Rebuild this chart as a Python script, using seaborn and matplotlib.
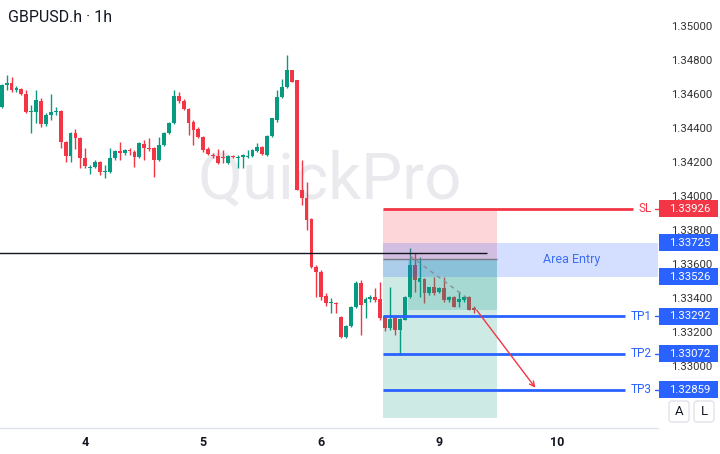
import numpy as np
import pandas as pd
import seaborn as sns
import matplotlib.pyplot as plt
from matplotlib.patches import Rectangle, FancyBboxPatch
from matplotlib import transforms

sns.set_theme(style='white')
plt.rcParams['font.family'] = ['Roboto', 'DejaVu Sans']

# hourly candles (oldest first)
opens = [1.34524, 1.34653, 1.34665, 1.34624, 1.34629, 1.34600, 1.34494, 1.34494, 1.34559, 1.34424,
         1.34476, 1.34494, 1.34500, 1.34318, 1.34235, 1.34371, 1.34341, 1.34224, 1.34165, 1.34171,
         1.34200, 1.34141, 1.34141, 1.34224, 1.34265, 1.34253, 1.34271, 1.34259, 1.34229, 1.34306,
         1.34282, 1.34282, 1.34212, 1.34300, 1.34371, 1.34429, 1.34588, 1.34559, 1.34512, 1.34435,
         1.34394, 1.34347, 1.34276, 1.34241, 1.34235, 1.34229, 1.34194, 1.34235, 1.34224, 1.34229,
         1.34229, 1.34235, 1.34265, 1.34288, 1.34241, 1.34353, 1.34447, 1.34582, 1.34641, 1.34741,
         1.34682, 1.34035, 1.33988, 1.33865, 1.33582, 1.33553, 1.33412, 1.33371, 1.33371, 1.33288,
         1.33171, 1.33235, 1.33347, 1.33488, 1.33371, 1.33394, 1.33406, 1.33394, 1.33294, 1.33224,
         1.33282, 1.33212, 1.33271, 1.33406, 1.33594, 1.33494, 1.33512, 1.33429, 1.33465, 1.33435,
         1.33459, 1.33388, 1.33406, 1.33377, 1.33388, 1.33406, 1.33341]
highs = [1.34659, 1.34712, 1.34700, 1.34647, 1.34635, 1.34624, 1.34535, 1.34624, 1.34576, 1.34488,
         1.34600, 1.34524, 1.34506, 1.34324, 1.34376, 1.34394, 1.34347, 1.34282, 1.34182, 1.34212,
         1.34206, 1.34182, 1.34282, 1.34271, 1.34318, 1.34276, 1.34282, 1.34271, 1.34318, 1.34329,
         1.34341, 1.34288, 1.34347, 1.34376, 1.34435, 1.34624, 1.34612, 1.34571, 1.34518, 1.34447,
         1.34406, 1.34353, 1.34288, 1.34253, 1.34276, 1.34271, 1.34241, 1.34241, 1.34241, 1.34247,
         1.34271, 1.34276, 1.34312, 1.34294, 1.34359, 1.34459, 1.34624, 1.34688, 1.34829, 1.34741,
         1.34682, 1.34212, 1.34082, 1.33871, 1.33594, 1.33565, 1.33429, 1.33400, 1.33377, 1.33294,
         1.33241, 1.33353, 1.33500, 1.33506, 1.33406, 1.33418, 1.33459, 1.33494, 1.33300, 1.33465,
         1.33294, 1.33282, 1.33412, 1.33694, 1.33665, 1.33641, 1.33518, 1.33465, 1.33524, 1.33465,
         1.33524, 1.33412, 1.33412, 1.33435, 1.33412, 1.33412, 1.33353]
lows = [1.34518, 1.34624, 1.34612, 1.34612, 1.34594, 1.34488, 1.34371, 1.34429, 1.34406, 1.34412,
        1.34447, 1.34476, 1.34282, 1.34200, 1.34200, 1.34276, 1.34165, 1.34165, 1.34129, 1.34165,
        1.34124, 1.34106, 1.34135, 1.34212, 1.34212, 1.34241, 1.34241, 1.34171, 1.34224, 1.34212,
        1.34265, 1.34112, 1.34206, 1.34294, 1.34365, 1.34424, 1.34547, 1.34506, 1.34359, 1.34300,
        1.34341, 1.34259, 1.34241, 1.34224, 1.34188, 1.34194, 1.34188, 1.34224, 1.34165, 1.34165,
        1.34224, 1.34229, 1.34259, 1.34241, 1.34235, 1.34347, 1.34435, 1.34576, 1.34635, 1.34671,
        1.34035, 1.33947, 1.33800, 1.33577, 1.33406, 1.33388, 1.33353, 1.33312, 1.33312, 1.33165,
        1.33165, 1.33230, 1.33341, 1.33182, 1.33282, 1.33377, 1.33377, 1.33271, 1.33206, 1.33212,
        1.33182, 1.33065, 1.33271, 1.33400, 1.33435, 1.33406, 1.33371, 1.33418, 1.33418, 1.33429,
        1.33377, 1.33377, 1.33347, 1.33347, 1.33377, 1.33329, 1.33312]
closes = [1.34653, 1.34665, 1.34624, 1.34635, 1.34600, 1.34494, 1.34500, 1.34565, 1.34424, 1.34476,
          1.34494, 1.34500, 1.34318, 1.34235, 1.34371, 1.34341, 1.34224, 1.34176, 1.34171, 1.34200,
          1.34141, 1.34147, 1.34224, 1.34265, 1.34253, 1.34271, 1.34265, 1.34229, 1.34312, 1.34282,
          1.34276, 1.34212, 1.34300, 1.34371, 1.34429, 1.34588, 1.34559, 1.34512, 1.34429, 1.34388,
          1.34347, 1.34271, 1.34247, 1.34235, 1.34194, 1.34224, 1.34235, 1.34229, 1.34229, 1.34241,
          1.34235, 1.34271, 1.34288, 1.34247, 1.34353, 1.34459, 1.34582, 1.34641, 1.34741, 1.34671,
          1.34035, 1.33988, 1.33859, 1.33582, 1.33553, 1.33406, 1.33371, 1.33377, 1.33365, 1.33171,
          1.33235, 1.33347, 1.33488, 1.33359, 1.33394, 1.33406, 1.33388, 1.33282, 1.33224, 1.33277,
          1.33212, 1.33277, 1.33406, 1.33594, 1.33506, 1.33518, 1.33429, 1.33465, 1.33429, 1.33459,
          1.33388, 1.33406, 1.33347, 1.33394, 1.33406, 1.33329, 1.33329]

day_pos = [17, 41, 65, 89, 113]
day_labels = ['4', '5', '6', '9', '10']
price_ticks = [1.330, 1.332, 1.334, 1.336, 1.338, 1.340, 1.342, 1.344, 1.346, 1.348, 1.350]

# trade setup levels
sl = 1.33926
entry_hi = 1.33725
entry_lo = 1.33526
tp_levels = [1.33292, 1.33072, 1.32859]
tp_names = ['TP1', 'TP2', 'TP3']
pos_entry = 1.33629
pos_target = 1.32694
ref_line = 1.33665

RED = '#f23645'
GREEN = '#089981'
BLUE = '#2962ff'
TXT = '#131722'

df = pd.DataFrame({'open': opens, 'high': highs, 'low': lows, 'close': closes})
df['i'] = np.arange(len(df))
df['up'] = df['close'] >= df['open']
df['col'] = np.where(df['up'], GREEN, RED)
df['bot'] = df[['open', 'close']].min(axis=1)
df['h'] = (df['close'] - df['open']).abs().clip(lower=0.00003)

fig = plt.figure(figsize=(7.2, 4.54), dpi=100)
ax = fig.add_axes([0, 26 / 454, 658 / 720, 428 / 454])
ax.set_xlim(-0.35, 133.5)
ax.set_ylim(1.326353, 1.351529)

# watermark
ax.text(330 / 720, 1 - 180 / 454, 'QuickPro', transform=fig.transFigure, fontsize=47,
        color='#eaeaee', ha='center', va='center', zorder=0.5)

# candles
ax.vlines(df['i'], df['low'], df['high'], colors=df['col'], lw=1, zorder=2)
ax.bar(df['i'], df['h'], bottom=df['bot'], width=0.78, color=df['col'], lw=0, zorder=2)

# position tool
x0, x1 = 77.55, 100.7
ax.add_patch(Rectangle((x0, pos_entry), x1 - x0, sl - pos_entry, color=RED, alpha=0.2, lw=0, zorder=3))
ax.add_patch(Rectangle((x0, pos_target), x1 - x0, pos_entry - pos_target, color=GREEN, alpha=0.2, lw=0, zorder=3))
ax.add_patch(Rectangle((82.6, closes[-1]), x1 - 82.6, pos_entry - closes[-1], color=GREEN, alpha=0.2, lw=0, zorder=3))
ax.hlines(pos_entry, x0, x1, color='#787b86', lw=1, zorder=4)

# entry zone
ax.add_patch(Rectangle((x0, entry_lo), 134 - x0, entry_hi - entry_lo, color=BLUE, alpha=0.2, lw=0, zorder=3))
ax.text(115.9, (entry_hi + entry_lo) / 2, 'Area Entry', color='#3d6ff5', fontsize=9,
        ha='center', va='center', zorder=5)

ax.hlines(ref_line, -1, 98.7, color=TXT, lw=1, zorder=4)

# SL / TP lines
ax.hlines(sl, x0, 128.4, color=RED, lw=2, zorder=4)
ax.text(132.2, sl, 'SL', color=RED, fontsize=8.5, ha='right', va='center', zorder=5)
ax.plot([132.9, 133.8], [sl, sl], color=RED, lw=1, clip_on=False, zorder=5)
for lvl, name in zip(tp_levels, tp_names):
    ax.hlines(lvl, x0, 126.8, color=BLUE, lw=2, zorder=4)
    ax.text(132.2, lvl, name, color=BLUE, fontsize=8.5, ha='right', va='center', zorder=5)
    ax.plot([132.9, 133.8], [lvl, lvl], color=BLUE, lw=1, clip_on=False, zorder=5)

# drawings
ax.plot([83.1, 95.2], [1.33647, 1.33388], color='#8a8d96', lw=1, ls=(0, (3, 3)), zorder=5)
ax.annotate('', xy=(108.9, 1.32859), xytext=(96.3, 1.33341),
            arrowprops=dict(arrowstyle='->', color=RED, lw=1, mutation_scale=9), zorder=5)

# axes
ax.yaxis.tick_right()
ax.set_yticks(price_ticks)
ax.set_yticklabels([f'{v:.5f}' for v in price_ticks])
for lbl in ax.get_yticklabels():
    lbl.set_ha('right')
ax.tick_params(axis='y', length=0, pad=39, labelsize=8.2, labelcolor='#333333')
ax.set_xticks(day_pos)
ax.set_xticklabels(day_labels, fontweight='semibold')
ax.tick_params(axis='x', length=0, pad=6, labelsize=9, labelcolor=TXT)
for s in ['top', 'left', 'right']:
    ax.spines[s].set_visible(False)
ax.spines['bottom'].set_color('#e0e3eb')
ax.spines['bottom'].set_linewidth(1)

# price labels on the scale
blend = transforms.blended_transform_factory(ax.transAxes, ax.transData)
for v, c in [(sl, RED), (entry_hi, BLUE), (entry_lo, BLUE)] + [(t, BLUE) for t in tp_levels]:
    ax.add_patch(Rectangle((1.0015, v - 0.0005), 0.0897, 0.001, transform=blend, color=c,
                           lw=0, clip_on=False, zorder=10))
    ax.text(1.0486, v, f'{v:.5f}', transform=blend, color='white', fontsize=8.2,
            ha='center', va='center', zorder=11, clip_on=False)

fig.text(8 / 720, 1 - 18 / 454, 'GBPUSD.h · 1h', ha='left', va='center', fontsize=11.5, color=TXT)

px = transforms.IdentityTransform()
for bx, lab in [(669, 'A'), (694, 'L')]:
    fig.add_artist(FancyBboxPatch((bx, 454 - 422), 20, 21, boxstyle='round,pad=0,rounding_size=3',
                                  transform=px, facecolor='white', edgecolor='#e0e3eb', lw=1))
    fig.text((bx + 10) / 720, 1 - 411.5 / 454, lab, ha='center', va='center', fontsize=9.5, color=TXT)

fig.savefig('out.png', dpi=100)
